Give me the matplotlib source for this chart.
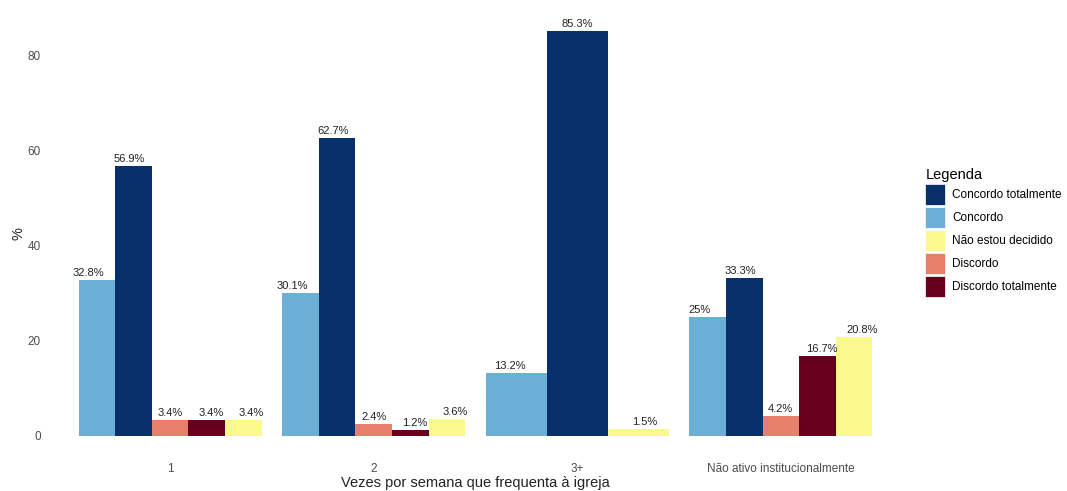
import matplotlib.pyplot as plt
from matplotlib.patches import Patch
import numpy as np

plt.rcParams['font.family'] = ['Liberation Sans', 'DejaVu Sans']

grupos = ['1', '2', '3+', 'Não ativo institucionalmente']
# order of dodge within each group (alphabetical, as in ggplot)
categorias = ['Concordo', 'Concordo totalmente', 'Discordo', 'Discordo totalmente', 'Não estou decidido']
valores = {
    'Concordo':            [32.8, 30.1, 13.2, 25.0],
    'Concordo totalmente': [56.9, 62.7, 85.3, 33.3],
    'Discordo':            [3.4, 2.4, np.nan, 4.2],
    'Discordo totalmente': [3.4, 1.2, np.nan, 16.7],
    'Não estou decidido':  [3.4, 3.6, 1.5, 20.8],
}
cores = {
    'Concordo totalmente': '#08306B',
    'Concordo': '#6BAED6',
    'Não estou decidido': '#FAF98E',
    'Discordo': '#E6806A',
    'Discordo totalmente': '#67001F',
}
ordem_legenda = ['Concordo totalmente', 'Concordo', 'Não estou decidido', 'Discordo', 'Discordo totalmente']

fig = plt.figure(figsize=(10.67, 4.91), dpi=100)
ax = fig.add_axes([48 / 1067, 1 - 456 / 491, (903 - 48) / 1067, (456 - 10.5) / 491])

for gi, g in enumerate(grupos):
    presentes = [c for c in categorias if not np.isnan(valores[c][gi])]
    n = len(presentes)
    w = 0.9 / n
    wl = 1.0 / n
    for k, c in enumerate(presentes):
        v = valores[c][gi]
        xb = gi + 1 - 0.45 + w * (k + 0.5)
        ax.bar(xb, v, width=w, color=cores[c], linewidth=0)
        xl = gi + 1 - 0.5 + wl * (k + 0.5)
        ax.annotate(f'{v:g}%', (xl, v), xytext=(0, 1.5), textcoords='offset points',
                    ha='center', va='bottom', fontsize=8, color='#222222')

ax.set_xlim(0.4, 4.6)
ax.set_ylim(-85.3 * 0.05, 85.3 * 1.05)
ax.set_xticks(range(1, 5))
ax.set_xticklabels(grupos)
ax.set_yticks([0, 20, 40, 60, 80])
ax.tick_params(length=0, labelsize=8.5, labelcolor='#4D4D4D')
ax.tick_params(axis='x', pad=5)
ax.tick_params(axis='y', pad=5)
for s in ax.spines.values():
    s.set_visible(False)
ax.set_xlabel('Vezes por semana que frequenta à igreja', fontsize=10.5, color='#222222', labelpad=1)
ax.set_ylabel('%', fontsize=10.5, color='#222222', labelpad=2)

handles = [Patch(facecolor=cores[c], edgecolor='white', linewidth=0.5, label=c) for c in ordem_legenda]
fig.legend(handles=handles, title='Legenda', loc='upper left', bbox_to_anchor=(917 / 1067, 1 - 160 / 491),
           frameon=False, fontsize=8.5, title_fontsize=10.5, handlelength=1.7, handleheight=2.36,
           labelspacing=0.17, handletextpad=0.6, alignment='left', borderpad=0.2)

fig.savefig('out.png', dpi=100)
